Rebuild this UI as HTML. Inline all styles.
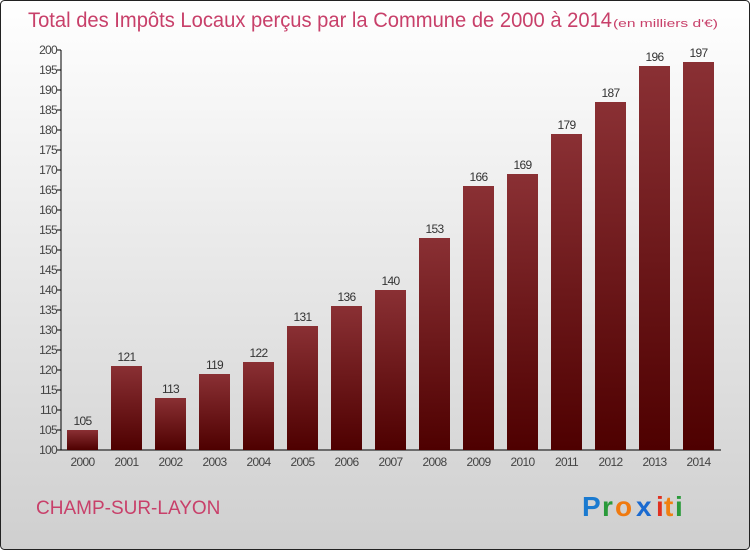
<!DOCTYPE html>
<html><head><meta charset="utf-8"><style>
html,body{margin:0;padding:0}
body{width:750px;height:550px;overflow:hidden;font-family:"Liberation Sans",sans-serif}
</style></head><body>
<svg width="750" height="550" xmlns="http://www.w3.org/2000/svg">
<defs>
<linearGradient id="bg" x1="0" y1="0" x2="0" y2="1"><stop offset="0" stop-color="#ffffff"/><stop offset="1" stop-color="#cfcfcf"/></linearGradient>
<linearGradient id="bar" x1="0" y1="0" x2="0" y2="1"><stop offset="0" stop-color="#8a3034"/><stop offset="1" stop-color="#4e0000"/></linearGradient>
</defs>
<rect x="0.5" y="0.5" width="749" height="549" rx="4" fill="url(#bg)" stroke="#222"/>
<text x="28" y="27" font-size="21" fill="#c8406a" textLength="584" lengthAdjust="spacingAndGlyphs">Total des Impôts Locaux perçus par la Commune de 2000 à 2014</text>
<text x="613" y="27" font-size="11" fill="#c8406a" textLength="105" lengthAdjust="spacingAndGlyphs">(en milliers d'€)</text>
<g id="axes"></g>
<g id="bars"></g>
<text x="36" y="514" font-size="19" fill="#c8406a">CHAMP-SUR-LAYON</text>
<g font-size="28" font-weight="bold" font-family="Liberation Sans, sans-serif">
<text x="582" y="516" fill="#1a7ad0">P</text><text x="602" y="516" fill="#2a9a3a">r</text><text x="615" y="516" fill="#f07a10">o</text><text x="636" y="516" fill="#1a6ad0">x</text><text x="656" y="516" fill="#e03020">i</text><text x="664" y="516" fill="#f08010">t</text><text x="675" y="516" fill="#2a9a3a">i</text>
</g>
</svg>
<script>
const categories=["2000","2001","2002","2003","2004","2005","2006","2007","2008","2009","2010","2011","2012","2013","2014"];
const values=[105,121,113,119,122,131,136,140,153,166,169,179,187,196,197];
const yTicks=[100,105,110,115,120,125,130,135,140,145,150,155,160,165,170,175,180,185,190,195,200];
const NS="http://www.w3.org/2000/svg";
const y=v=>450-(v-100)*4;
const x=i=>82.5+i*44;
function mk(t,a,p){const e=document.createElementNS(NS,t);for(const k in a)e.setAttribute(k,a[k]);p.appendChild(e);return e;}
const ax=document.getElementById('axes'),bg=document.getElementById('bars');
let l=mk('line',{x1:61,y1:50,x2:61,y2:450,stroke:'#000'},ax);


l=mk('line',{x1:61,y1:450,x2:721,y2:450,stroke:'#000'},ax);


yTicks.forEach(v=>{
 mk('line',{x1:57,y1:y(v),x2:61,y2:y(v),stroke:'#000'},ax);
 const t=mk('text',{x:57,y:y(v)+4,'font-size':12,fill:'#444','text-anchor':'end','letter-spacing':'-0.7'},ax);
 t.textContent=v;
 
 
});
categories.forEach((c,i)=>{
 const r=mk('rect',{x:x(i)-15.5,y:y(values[i]),width:31,height:450-y(values[i]),fill:'url(#bar)'},bg);
 
 
 const v=mk('text',{x:x(i),y:y(values[i])-5,'font-size':12,fill:'#333','text-anchor':'middle','letter-spacing':'-0.7'},bg);
 v.textContent=values[i];
 
 
 const t=mk('text',{x:x(i),y:466,'font-size':12,fill:'#444','text-anchor':'middle','letter-spacing':'-0.7'},bg);
 t.textContent=c;
 
 
});
</script>
</body></html>
